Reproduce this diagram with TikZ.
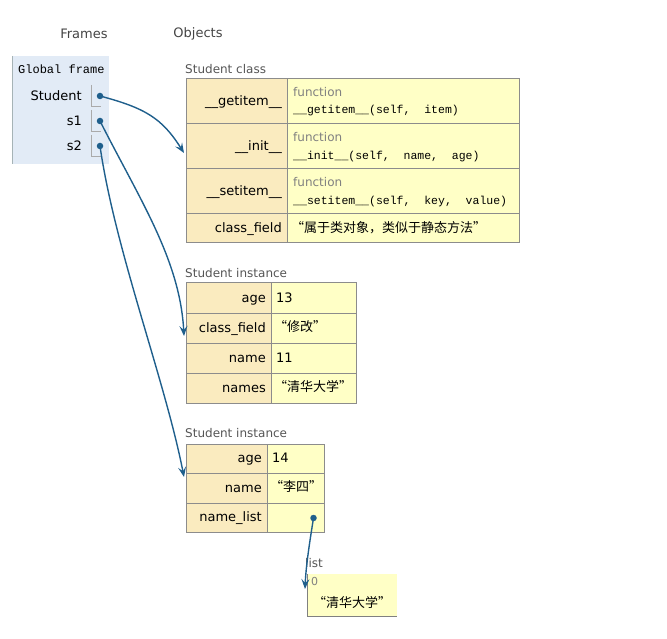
\documentclass[tikz,border=0pt]{standalone}
\usepackage{fontspec}
\setmainfont{DejaVu Sans}
\newfontfamily\monof{Liberation Mono}
\newfontfamily\cjk{Noto Sans CJK SC}
\usetikzlibrary{arrows.meta}
\definecolor{framebg}{HTML}{E2EBF6}
\definecolor{frameborder}{HTML}{A6B3B6}
\definecolor{keybg}{HTML}{FAEBBF}
\definecolor{valbg}{HTML}{FFFFC6}
\definecolor{gridc}{HTML}{8C8C8C}
\definecolor{cellc}{HTML}{AAAAAA}
\definecolor{arrowc}{HTML}{1F5F8C}
\definecolor{lblc}{HTML}{555555}
\definecolor{fnc}{HTML}{808080}
\definecolor{hdrc}{HTML}{444444}
\begin{document}
\begin{tikzpicture}[x=1pt,y=-1pt,
  txt/.style={inner sep=0pt, yshift=-1.5pt, font=\fontsize{13}{15}\selectfont},
  keyt/.style={txt, anchor=mid east},
  valt/.style={txt, anchor=mid west},
  cjkt/.style={inner sep=0pt, yshift=-1pt, anchor=mid west, font=\cjk\fontsize{13}{15}\selectfont},
  lbl/.style={inner sep=0pt, yshift=-1.5pt, anchor=mid west, text=lblc, font=\fontsize{12}{14}\selectfont},
  hdr/.style={inner sep=0pt, yshift=-1pt, text=hdrc, font=\fontsize{13}{15}\selectfont},
  fn/.style={inner sep=0pt, yshift=-1pt, anchor=mid west, text=fnc, font=\fontsize{12}{14}\selectfont},
  sig/.style={inner sep=0pt, yshift=-1pt, anchor=mid west, font=\monof\fontsize{11.5}{13}\selectfont},
  dot/.style={circle, fill=arrowc, inner sep=0pt, minimum size=6.5pt},
  arr/.style={draw=arrowc, line width=1.4pt, -{Stealth[length=10pt,width=8pt,inset=4pt]}},
  grid/.style={draw=gridc, line width=1pt},
  vcell/.style={draw=cellc, line width=1pt}
]
\useasboundingbox (0,0) rectangle (667,639);

% headers
\node[hdr] (hFrames) at (84,33) {Frames};
\node[hdr] (hObjects) at (198,33) {Objects};

% global frame
\fill[framebg] (12,56) rectangle (109,164);
\draw[frameborder, line width=1.3pt] (12.6,56) -- (12.6,164);
\node[inner sep=0pt, yshift=-1pt, anchor=mid west, font=\monof\fontsize{12}{14}\selectfont] (gf) at (18,70) {Global frame};
\node[keyt] (vStudent) at (82,96) {Student};
\node[keyt] (vS1) at (82,121) {s1};
\node[keyt] (vS2) at (82,146) {s2};
\draw[vcell] (91,85) -- (91,107) -- (101,107);
\draw[vcell] (91,110) -- (91,132) -- (101,132);
\draw[vcell] (91,135) -- (91,157) -- (101,157);
\node[dot] (dStudent) at (100,96) {};
\node[dot] (dS1) at (100,121) {};
\node[dot] (dS2) at (100,146) {};

% Student class
\node[lbl] (lClass) at (185,69) {Student class};
\fill[keybg] (186,79) rectangle (287,243);
\fill[valbg] (287,79) rectangle (519,243);
\draw[grid] (186,79) rectangle (519,243);
\draw[grid] (287,79) -- (287,243);
\foreach \yy in {124,169,214} \draw[grid] (186,\yy) -- (519,\yy);
\node[keyt] (kGet) at (282,101.5) {\_\_getitem\_\_};
\node[keyt] (kInit) at (282,146.5) {\_\_init\_\_};
\node[keyt] (kSet) at (282,191.5) {\_\_setitem\_\_};
\node[keyt] (kCF) at (282,228.5) {class\_field};
\node[fn] (fGet) at (293,93) {function};
\node[sig] (sGet) at (293,110) {\_\_getitem\_\_(self,\ \ item)};
\node[fn] (fInit) at (293,138) {function};
\node[sig] (sInit) at (293,156) {\_\_init\_\_(self,\ \ name,\ \ age)};
\node[fn] (fSet) at (293,183) {function};
\node[sig] (sSet) at (293,201) {\_\_setitem\_\_(self,\ \ key,\ \ value)};
\node[cjkt] (vCF) at (291,228.5) {“属于类对象，类似于静态方法”};

% Student instance 1
\node[lbl] (lInst1) at (185,273) {Student instance};
\fill[keybg] (186,283) rectangle (271,403);
\fill[valbg] (271,283) rectangle (356,403);
\draw[grid] (186,283) rectangle (356,403);
\draw[grid] (271,283) -- (271,403);
\foreach \yy in {313,343,373} \draw[grid] (186,\yy) -- (356,\yy);
\node[keyt] (k1Age) at (266,298) {age};
\node[keyt] (k1CF) at (266,328) {class\_field};
\node[keyt] (k1Name) at (266,358) {name};
\node[keyt] (k1Names) at (266,388) {names};
\node[valt] (v1Age) at (276,298) {13};
\node[cjkt] (v1CF) at (274,328) {“修改”};
\node[valt] (v1Name) at (276,358) {11};
\node[cjkt] (v1Names) at (274,388) {“清华大学”};

% Student instance 2
\node[lbl] (lInst2) at (185,433) {Student instance};
\fill[keybg] (186,444) rectangle (267,532);
\fill[valbg] (267,444) rectangle (324,532);
\draw[grid] (186,444) rectangle (324,532);
\draw[grid] (267,444) -- (267,532);
\foreach \yy in {473,503} \draw[grid] (186,\yy) -- (324,\yy);
\node[keyt] (k2Age) at (262,458.5) {age};
\node[keyt] (k2Name) at (262,488) {name};
\node[keyt] (k2NL) at (262,517.5) {name\_list};
\node[valt] (v2Age) at (272,458.5) {14};
\node[cjkt] (v2Name) at (270,488) {“李四”};
\node[dot] (dNL) at (313.5,518) {};

% list
\node[lbl] (lList) at (305,563) {list};
\fill[valbg] (307,574) rectangle (397,616);
\draw[draw=gray, line width=1pt] (307,574) -- (307,616) -- (397,616);
\node[inner sep=0pt, yshift=-1pt, anchor=mid west, text=fnc, font=\fontsize{11}{13}\selectfont] (i0) at (311,582) {0};
\node[inner sep=0pt, yshift=-1pt, font=\cjk\fontsize{13}{15}\selectfont] (l0) at (352,601) {“清华大学”};

% arrow targets
\coordinate (tStudent) at (184,153);
\coordinate (tS1) at (184,336);
\coordinate (tS2) at (184,477);
\coordinate (tNL) at (305,589);

% arrows
\draw[arr] (dStudent.center) .. controls (145,108) and (162,118) .. (tStudent);
\draw[arr] (dS1.center) .. controls (140,200) and (180,260) .. (tS1);
\draw[arr] (dS2.center) .. controls (115,250) and (165,380) .. (tS2);
\draw[arr] (dNL.center) .. controls (310,540) and (306,565) .. (tNL);
\end{tikzpicture}
\end{document}
